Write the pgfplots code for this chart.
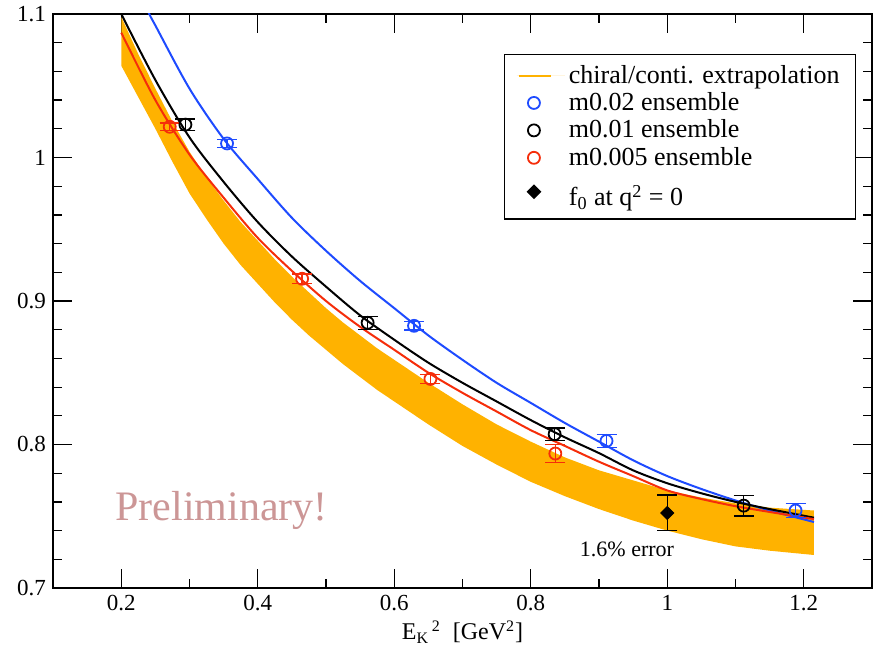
\documentclass[border=0pt]{standalone}
\usepackage{pgfplots}
\pgfplotsset{compat=1.18}
\usepackage{fontspec}
\setmainfont{Liberation Serif}

\definecolor{bandorange}{RGB}{255,178,0}
\definecolor{gblue}{RGB}{30,75,255}
\definecolor{gred}{RGB}{245,45,10}
\definecolor{prelim}{RGB}{204,150,150}

\pgfplotsset{
  lattice/.style={only marks, mark=o, mark size=3pt, line width=0.9pt,
    error bars/.cd, y dir=both, y explicit,
    error bar style={line width=0.7pt},
    error mark options={rotate=90, mark size=5pt, line width=0.7pt}},
  fitcurve/.style={line width=1pt, smooth, tension=0.5, forget plot},
}

\begin{document}
\begin{tikzpicture}
\useasboundingbox (-26.5pt,-38.5pt) rectangle (412.5pt,294pt);
\begin{axis}[
  scale only axis, width=409.5pt, height=287pt,
  xmin=0.1, xmax=1.3, ymin=0.7, ymax=1.1,
  xtick={0.2,0.4,0.6,0.8,1,1.2},
  ytick={0.7,0.8,0.9,1,1.1},
  minor x tick num=1, minor y tick num=4,
  tick align=inside, tick pos=both,
  major tick length=9.5pt, minor tick length=4.5pt,
  every tick/.style={black, line width=0.6pt},
  axis line style={line width=0.8pt},
  /pgf/number format/assume math mode=true,
  ticklabel style={font=\fontsize{11.5}{13}\selectfont},
  xlabel={E\textsubscript{K}\textsuperscript{\,2}\ \ [GeV\textsuperscript{2}]},
  xlabel style={font=\fontsize{12}{14}\selectfont, yshift=2pt},
  legend style={at={(0.551,0.930)}, anchor=north west,
    font=\fontsize{13}{14}\selectfont, draw=black, line width=0.6pt,
    inner xsep=6pt, inner ysep=3.5pt, row sep=0pt,
    nodes={inner ysep=1.6pt}, cells={anchor=west}},
  legend cell align=left,
]
% extrapolation band: upper edge left to right, then lower edge back
\addplot[fill=bandorange, draw=none,
  legend image code/.code={\path (0pt,0pt) -- (24pt,0pt);
    \draw[bandorange, line width=1pt] (1pt,0pt) -- (17pt,0pt);}]
coordinates {
 (0.20,1.098) (0.225,1.072) (0.25,1.048) (0.275,1.025) (0.30,1.004)
 (0.325,0.986) (0.35,0.970) (0.375,0.955) (0.40,0.942) (0.425,0.929)
 (0.45,0.917) (0.475,0.906) (0.50,0.895) (0.525,0.885) (0.55,0.876)
 (0.575,0.867) (0.60,0.859) (0.65,0.843) (0.70,0.828) (0.75,0.814)
 (0.80,0.802) (0.85,0.791) (0.90,0.782) (0.95,0.775) (1.00,0.768)
 (1.05,0.763) (1.10,0.759) (1.15,0.756) (1.215,0.754)
 (1.215,0.723) (1.15,0.726) (1.10,0.729) (1.05,0.734) (1.00,0.740)
 (0.95,0.747) (0.90,0.755) (0.85,0.764) (0.80,0.774) (0.75,0.786)
 (0.70,0.799) (0.65,0.814) (0.60,0.830) (0.575,0.838) (0.55,0.847)
 (0.525,0.856) (0.50,0.866) (0.475,0.876) (0.45,0.887) (0.425,0.899)
 (0.40,0.912) (0.375,0.925) (0.35,0.940) (0.325,0.957) (0.30,0.975)
 (0.275,0.997) (0.25,1.020) (0.225,1.042) (0.20,1.064)
};
\addlegendentry{chiral/conti. extrapolation}

% fit curves for each ensemble
\addplot[gblue, fitcurve] coordinates {
 (0.20,1.140) (0.24,1.101) (0.25,1.092) (0.30,1.048) (0.35,1.013)
 (0.40,0.985) (0.45,0.958) (0.50,0.935) (0.55,0.914) (0.60,0.895)
 (0.65,0.876) (0.70,0.859) (0.75,0.843) (0.80,0.829) (0.85,0.815)
 (0.90,0.802) (0.95,0.789) (1.00,0.778) (1.05,0.769) (1.10,0.761)
 (1.15,0.754) (1.215,0.746)
};
\addplot[black, fitcurve] coordinates {
 (0.20,1.100) (0.25,1.054) (0.30,1.014) (0.35,0.983) (0.40,0.955)
 (0.45,0.931) (0.50,0.910) (0.55,0.890) (0.60,0.873) (0.65,0.857)
 (0.70,0.843) (0.75,0.830) (0.80,0.817) (0.85,0.805) (0.90,0.794)
 (0.95,0.782) (1.00,0.773) (1.05,0.766) (1.10,0.760) (1.15,0.755)
 (1.215,0.749)
};
\addplot[gred, fitcurve] coordinates {
 (0.20,1.087) (0.25,1.040) (0.30,1.002) (0.35,0.972) (0.40,0.944)
 (0.45,0.921) (0.50,0.900) (0.55,0.882) (0.60,0.866) (0.65,0.850)
 (0.70,0.836) (0.75,0.823) (0.80,0.810) (0.85,0.799) (0.90,0.788)
 (0.95,0.778) (1.00,0.768) (1.05,0.762) (1.10,0.757) (1.15,0.753)
 (1.215,0.748)
};

% lattice data
\addplot[gblue, lattice] coordinates {
 (0.355,1.0098) +- (0,0.0027)
 (0.629,0.8827) +- (0,0.0030)
 (0.911,0.8025) +- (0,0.0045)
 (1.188,0.7540) +- (0,0.0048)
};
\addlegendentry{m0.02 ensemble}

\addplot[black, lattice] coordinates {
 (0.294,1.0229) +- (0,0.0040)
 (0.561,0.8848) +- (0,0.0046)
 (0.835,0.8072) +- (0,0.0043)
 (1.112,0.7574) +- (0,0.0071)
};
\addlegendentry{m0.01 ensemble}

\addplot[gred, lattice] coordinates {
 (0.271,1.0214) +- (0,0.0027)
 (0.465,0.9155) +- (0,0.0033)
 (0.653,0.8457) +- (0,0.0030)
 (0.836,0.7937) +- (0,0.0063)
};
\addlegendentry{m0.005 ensemble}

\addplot[black, only marks, mark=square*, mark size=2.3pt,
  mark options={rotate=45},
  error bars/.cd, y dir=both, y explicit,
  error bar style={line width=0.7pt},
  error mark options={rotate=90, mark size=5pt, line width=0.7pt}]
coordinates {
 (1.0,0.7523) +- (0,0.0124)
};
\addlegendentry{\rule{0pt}{15.5pt}f\textsubscript{0} at q\textsuperscript{2} = 0}

\node[prelim, font=\fontsize{21}{25}\selectfont] at (axis cs:0.347,0.754) {Preliminary!};
\node[font=\fontsize{11}{13}\selectfont] at (axis cs:0.941,0.727) {1.6\% error};
\end{axis}
\end{tikzpicture}
\end{document}
